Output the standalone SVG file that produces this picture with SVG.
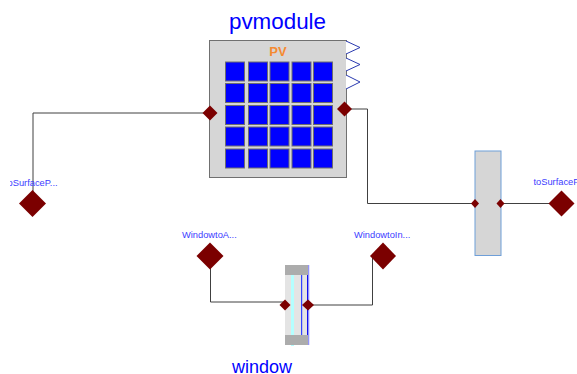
<svg xmlns="http://www.w3.org/2000/svg" width="577" height="374" viewBox="0 0 577 374">
<style>
text{font-family:"Liberation Sans",Arial,sans-serif}
.t{fill:#0000ff;text-anchor:middle}
.l{fill:#3c3cff;font-size:9.300px}
.c{fill:none;stroke:#404040;stroke-width:1}
.p{fill:#7b0000}
.g{fill:#0000ff;stroke:#6e6e6e;stroke-width:1}
</style>
<defs><clipPath id="cl"><rect x="10" y="170" width="60" height="20"/></clipPath></defs>
<rect width="577" height="374" fill="#fff"/>
<g id="connectors">
<path class="c" d="M33 203V113H210" />
<path class="c" d="M344 109H367.500V203.500H475"/>
<path class="c" d="M501 203.500H561"/>
<path class="c" d="M210.500 256V302H285"/>
<path class="c" d="M308 305H372.500V256"/>
</g>
<g id="pvmodule">
<text class="t" x="277.500" y="29" font-size="22.400">pvmodule</text>
<rect x="209.500" y="40.500" width="137" height="137" fill="#d6d6d6" stroke="#707070" stroke-width="1"/>
<text x="278" y="56" font-size="13" font-weight="bold" fill="#f58a32" text-anchor="middle">PV</text>
<g>
<rect class="g" x="225.500" y="62" width="19" height="19"/><rect class="g" x="248.500" y="62" width="19" height="19"/><rect class="g" x="270" y="62" width="19" height="19"/><rect class="g" x="292" y="62" width="19" height="19"/><rect class="g" x="313.500" y="62" width="19" height="19"/>
<rect class="g" x="225.500" y="83.500" width="19" height="19"/><rect class="g" x="248.500" y="83.500" width="19" height="19"/><rect class="g" x="270" y="83.500" width="19" height="19"/><rect class="g" x="292" y="83.500" width="19" height="19"/><rect class="g" x="313.500" y="83.500" width="19" height="19"/>
<rect class="g" x="225.500" y="105.500" width="19" height="19"/><rect class="g" x="248.500" y="105.500" width="19" height="19"/><rect class="g" x="270" y="105.500" width="19" height="19"/><rect class="g" x="292" y="105.500" width="19" height="19"/><rect class="g" x="313.500" y="105.500" width="19" height="19"/>
<rect class="g" x="225.500" y="127" width="19" height="19"/><rect class="g" x="248.500" y="127" width="19" height="19"/><rect class="g" x="270" y="127" width="19" height="19"/><rect class="g" x="292" y="127" width="19" height="19"/><rect class="g" x="313.500" y="127" width="19" height="19"/>
<rect class="g" x="225.500" y="149" width="19" height="19"/><rect class="g" x="248.500" y="149" width="19" height="19"/><rect class="g" x="270" y="149" width="19" height="19"/><rect class="g" x="292" y="149" width="19" height="19"/><rect class="g" x="313.500" y="149" width="19" height="19"/>
</g>
<path d="M346 41L360 47.500L346 54M346 58L360 64.500L346 71M346 75L360 82L346 89" fill="#fff" stroke="#2a3ab0" stroke-width="1"/>
<path class="p" d="M210 105.500L217.500 113L210 120.500L202.500 113Z"/>
<path class="p" d="M344.500 101.500L352 109L344.500 116.500L337 109Z"/>
</g>
<g id="toSurfaceLeft">
<text class="l" x="5" y="186" clip-path="url(#cl)">toSurfaceP...</text>
<path class="p" d="M32.500 190L46 203.500L32.500 217L19 203.500Z"/>
</g>
<g id="wall">
<rect x="475" y="151" width="26" height="104.500" fill="#d6d6d6" stroke="#6f9fd8" stroke-width="1"/>
<path class="p" d="M475 199L479 203.500L475 208L471 203.500Z"/>
<path class="p" d="M500.500 199L504.500 203.500L500.500 208L496.500 203.500Z"/>
</g>
<g id="toSurfaceRight">
<text class="l" x="533.500" y="185">toSurfaceP</text>
<path class="p" d="M561.500 190.500L574.500 203.500L561.500 216.500L548.500 203.500Z"/>
</g>
<g id="WindowtoA">
<text class="l" x="182" y="238">WindowtoA...</text>
<path class="p" d="M210 242.500L223.500 256L210 269.500L196.500 256Z"/>
</g>
<g id="WindowtoIn">
<text class="l" x="354" y="238">WindowtoIn...</text>
<path class="p" d="M383 242.500L396 256L383 269.500L370 256Z"/>
</g>
<g id="window">
<rect x="285" y="265" width="23" height="80" fill="#e4e4e4"/>
<rect x="291" y="275" width="3" height="71" fill="#b4ffff"/>
<rect x="301" y="275" width="1.200" height="60" fill="#3344ff"/>
<rect x="307" y="265" width="1.500" height="80" fill="#1111ee"/>
<rect x="308.500" y="265" width="0.800" height="80" fill="#a0a0ff"/>
<rect x="285" y="265" width="23" height="10" fill="#acacac"/>
<rect x="285" y="335" width="23" height="10" fill="#acacac"/>
<path class="p" d="M285 299.500L290.500 305L285 310.500L279.500 305Z"/>
<path class="p" d="M308 299.500L314 305L308 310.500L302 305Z"/>
<text class="t" x="262" y="372.500" font-size="18">window</text>
</g>
</svg>
